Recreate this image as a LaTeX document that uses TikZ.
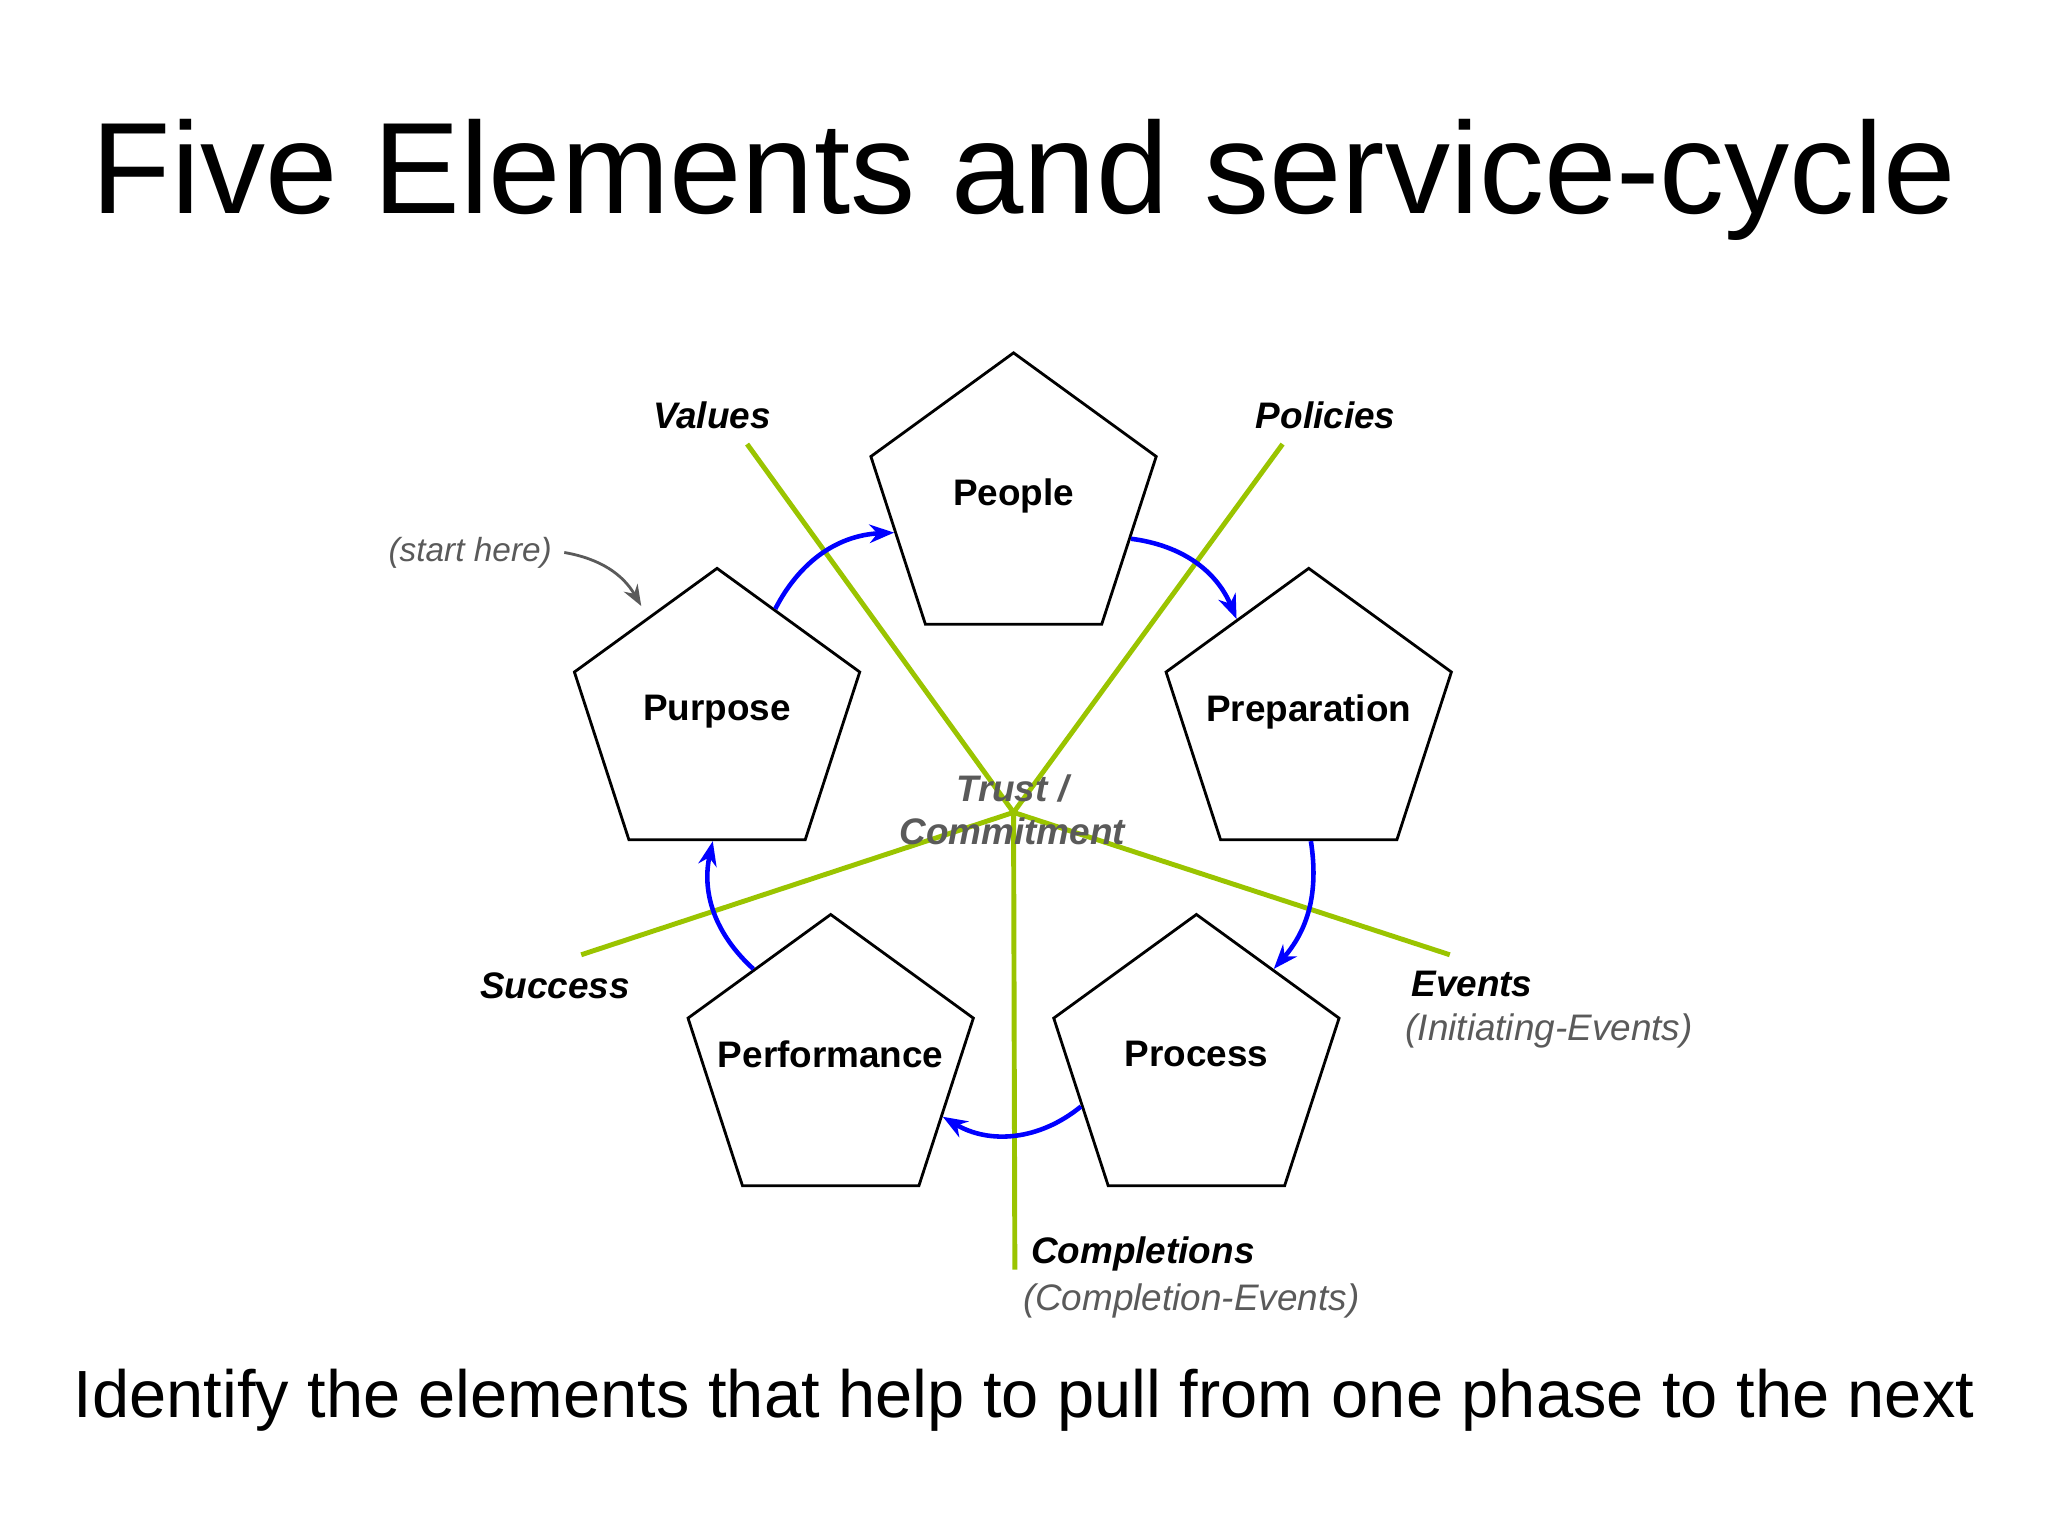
\documentclass[tikz,border=0pt]{standalone}
\usepackage{fontspec}
\setmainfont{Liberation Sans}
\usetikzlibrary{shapes.geometric,arrows.meta}
\definecolor{leaf}{RGB}{154,196,0}
\definecolor{note}{RGB}{90,90,90}
\newcommand{\phasetext}[1]{\raisebox{1.1ex}{\makebox[0pt]{#1}}}
\tikzset{
  phase/.style={regular polygon, regular polygon sides=5, draw, thick, minimum size=3.0cm, inner sep=0pt, text width=1.2cm, align=center, font=\fontsize{10.5}{12}\selectfont\bfseries},
  axis/.style={draw=leaf, line width=1.4pt},
  flow/.style={draw=blue, line width=1.3pt, -{Stealth[length=7pt]}},
  tag/.style={font=\fontsize{10.5}{12}\selectfont\bfseries\itshape},
  aside/.style={text=note, font=\fontsize{10.5}{12}\selectfont\itshape}
}
\begin{document}
\begin{tikzpicture}[x=0.01306cm, y=-0.01306cm]
  \useasboundingbox (0,0) rectangle (1568,1176);
  \node (title) at (784,138) {\fontsize{37}{42}\selectfont Five Elements and service-cycle};
  \node (footer) at (784,1072) {\fontsize{19}{22}\selectfont Identify the elements that help to pull from one phase to the next};
  % the five phases
  \node[phase] (people) at (776,385) {\phasetext{People}};
  \node[phase] (purpose) at (549,550) {\phasetext{Purpose}};
  \node[phase] (prep) at (1002,550) {\phasetext{Preparation}};
  \node[phase] (perf) at (636,815) {\phasetext{Performance}};
  \node[phase] (process) at (916,815) {\phasetext{Process}};
  % green axes
  \coordinate (hub) at (776,622);
  \coordinate (values) at (572,340);
  \coordinate (policies) at (982,340);
  \coordinate (success) at (445,731);
  \coordinate (events) at (1110,731);
  \coordinate (completions) at (777,972);
  \foreach \e in {values,policies,success,events,completions}
    \draw[axis] (hub) -- (\e);
  \node[text=note, font=\fontsize{10.5}{12.5}\selectfont\bfseries\itshape, align=center] (trust) at (775,620) {Trust /\\Commitment};
  % the cycle
  \draw[flow] (purpose.62) to[bend left=30] (people.194);
  \draw[flow] (people.-17) to[bend left=30] (prep.126);
  \draw[flow] (prep.-89) to[bend left=25] (process.51);
  \draw[flow] (process.200) to[bend left=35] (perf.-25);
  \draw[flow] (perf.129) to[bend left=30] (purpose.-92);
  % labels
  \node[tag] (lvalues) at (545,318) {Values};
  \node[tag] (lpolicies) at (1015,318) {Policies};
  \node[tag] (lsuccess) at (425,755) {Success};
  \node[tag] (levents) at (1127,753) {Events};
  \node[aside] (linit) at (1186,789) {(Initiating-Events)};
  \node[tag] (lcompl) at (875,960) {Completions};
  \node[aside] (lcompev) at (912,996) {(Completion-Events)};
  \node[aside, font=\fontsize{9.5}{11}\selectfont\itshape] (start) at (360,423) {(start here)};
  \coordinate (startend) at (491,464);
  \draw[note, thick, -{Stealth[length=6pt]}] (start.east) to[bend left=25] (startend);
\end{tikzpicture}
\end{document}
